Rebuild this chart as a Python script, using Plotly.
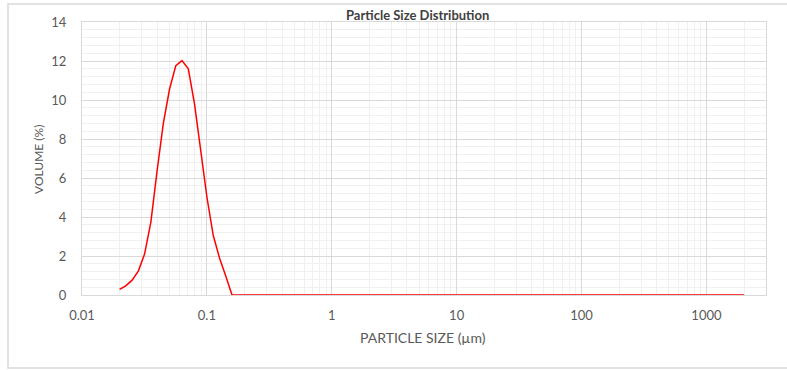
import math
import plotly.graph_objects as go

# Data
particle_size_um = [0.02, 0.0224, 0.0252, 0.0283, 0.0317, 0.0356, 0.0399, 0.0448,
                    0.0502, 0.0564, 0.0632, 0.0710, 0.0796, 0.0893, 0.1002, 0.1125,
                    0.1262, 0.1416, 0.1589, 2000]
volume_pct = [0.29, 0.47, 0.76, 1.24, 2.1, 3.74, 6.35, 8.8,
              10.55, 11.76, 12.02, 11.6, 9.8, 7.3, 5.0, 3.05,
              1.9, 0.97, 0.0, 0.0]

x_tick_vals = [0.01, 0.1, 1, 10, 100, 1000]
x_tick_text = ["0.01", "0.1", "1", "10", "100", "1000"]

FONT = "Lato"
TXT = "#595959"
GRID_MAJ = "#d9d9d9"
GRID_MIN = "#f0f0f0"

minor_x = []
for d in range(-2, 4):
    for m in range(2, 10):
        v = m * 10 ** d
        if v <= 3000:
            minor_x.append(v)

fig = go.Figure()
fig.add_trace(go.Scatter(x=particle_size_um, y=volume_pct, mode="lines",
                         line=dict(color="#ff0000", width=1.5), showlegend=False))

W, H = 787, 370
L, R, T, B = 82, 766, 22, 295
pw, ph = R - L, B - T

def px(xp):
    return (xp - L) / pw

def py(yp):
    return (B - yp) / ph

fig.update_layout(
    width=W, height=H,
    margin=dict(l=L, r=W - R, t=T, b=H - B),
    paper_bgcolor="white", plot_bgcolor="white",
    font=dict(family=FONT, size=13, color=TXT),
    xaxis=dict(type="log", range=[math.log10(0.01), math.log10(3000)],
               tickvals=x_tick_vals, ticktext=x_tick_text,
               showgrid=True, gridcolor=GRID_MAJ, gridwidth=1,
               minor=dict(tickvals=minor_x, showgrid=True, gridcolor=GRID_MIN, gridwidth=1, ticks=""),
               showline=True, linecolor=GRID_MAJ, linewidth=1, mirror=True,
               ticks="", ticklabelstandoff=8, zeroline=False,
               tickfont=dict(family=FONT, size=13, color=TXT)),
    yaxis=dict(range=[0, 14], dtick=2, tick0=0,
               showgrid=True, gridcolor=GRID_MAJ, gridwidth=1,
               minor=dict(dtick=0.4, showgrid=True, gridcolor=GRID_MIN, gridwidth=1, ticks=""),
               showline=True, linecolor=GRID_MAJ, linewidth=1, mirror=True,
               ticks="", ticklabelstandoff=12, zeroline=False,
               tickfont=dict(family=FONT, size=13, color=TXT)),
    shapes=[dict(type="rect", xref="paper", yref="paper",
                 x0=px(8), x1=px(792), y0=py(368), y1=py(4),
                 line=dict(color="#d9d9d9", width=1.5), fillcolor="rgba(0,0,0,0)", layer="below")],
    annotations=[
        dict(text="<b>Particle Size Distribution</b>", xref="paper", yref="paper",
             x=px(417), y=py(15), showarrow=False, xanchor="center", yanchor="middle",
             font=dict(family=FONT, size=13, color="#404040")),
        dict(text="PARTICLE SIZE (µm)", xref="paper", yref="paper",
             x=px(423), y=py(337), showarrow=False, xanchor="center", yanchor="middle",
             font=dict(family=FONT, size=14, color=TXT)),
        dict(text="VOLUME (%)", xref="paper", yref="paper", textangle=-90,
             x=px(38), y=py(160), showarrow=False, xanchor="center", yanchor="middle",
             font=dict(family=FONT, size=12, color=TXT)),
    ],
)

fig.write_html("out.html", config={"displayModeBar": False},
               post_script="document.body.style.margin='0';document.body.style.overflow='hidden';")
